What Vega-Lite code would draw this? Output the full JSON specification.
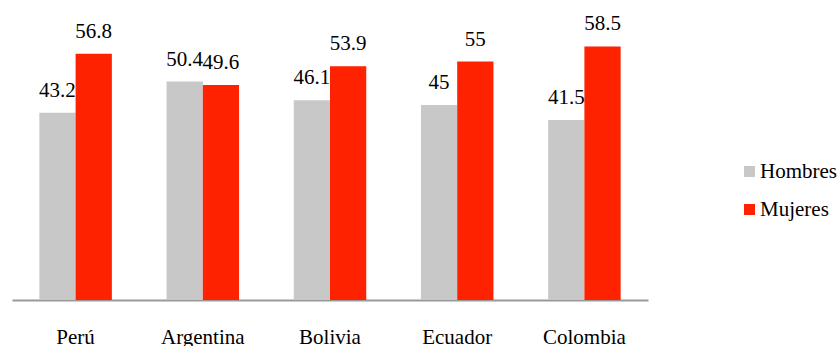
{
  "$schema": "https://vega.github.io/schema/vega-lite/v6.json",
  "width": 636,
  "height": 300,
  "autosize": {"type": "none"},
  "padding": {"left": 12, "top": 0, "right": 191, "bottom": 46},
  "background": "white",
  "config": {"view": {"stroke": null}, "font": "Liberation Serif"},
  "data": {
    "values": [
      {"pais": "Perú", "sexo": "Hombres", "valor": 43.2},
      {"pais": "Perú", "sexo": "Mujeres", "valor": 56.8},
      {"pais": "Argentina", "sexo": "Hombres", "valor": 50.4},
      {"pais": "Argentina", "sexo": "Mujeres", "valor": 49.6},
      {"pais": "Bolivia", "sexo": "Hombres", "valor": 46.1},
      {"pais": "Bolivia", "sexo": "Mujeres", "valor": 53.9},
      {"pais": "Ecuador", "sexo": "Hombres", "valor": 45},
      {"pais": "Ecuador", "sexo": "Mujeres", "valor": 55},
      {"pais": "Colombia", "sexo": "Hombres", "valor": 41.5},
      {"pais": "Colombia", "sexo": "Mujeres", "valor": 58.5}
    ]
  },
  "encoding": {
    "x": {
      "field": "pais", "type": "nominal", "sort": null,
      "scale": {"paddingInner": 0.43, "paddingOuter": 0.215},
      "axis": {
        "title": null, "labelAngle": 0, "ticks": false,
        "domainColor": "#999999", "domainWidth": 2,
        "labelFont": "Liberation Serif", "labelFontSize": 21, "labelColor": "#000000",
        "labelPadding": 26
      }
    },
    "xOffset": {"field": "sexo", "type": "nominal", "sort": ["Hombres", "Mujeres"], "scale": {"paddingInner": 0, "paddingOuter": 0}},
    "y": {
      "field": "valor", "type": "quantitative",
      "scale": {"domain": [0, 69.2], "nice": false},
      "axis": null
    }
  },
  "layer": [
    {
      "mark": {"type": "bar"},
      "encoding": {
        "color": {
          "field": "sexo", "type": "nominal",
          "scale": {"domain": ["Hombres", "Mujeres"], "range": ["#c8c8c8", "#ff2200"]},
          "legend": {
            "title": null, "orient": "none", "legendX": 727, "legendY": 161,
            "symbolType": "square", "symbolSize": 121, "symbolStrokeWidth": 0,
            "labelFont": "Liberation Serif", "labelFontSize": 21, "labelColor": "#000000",
            "rowPadding": 16, "labelOffset": 0
          }
        }
      }
    },
    {
      "mark": {"type": "text", "baseline": "alphabetic", "dy": -16, "font": "Liberation Serif", "fontSize": 21, "color": "#000000"},
      "encoding": {"text": {"field": "valor", "type": "quantitative"}}
    }
  ]
}
